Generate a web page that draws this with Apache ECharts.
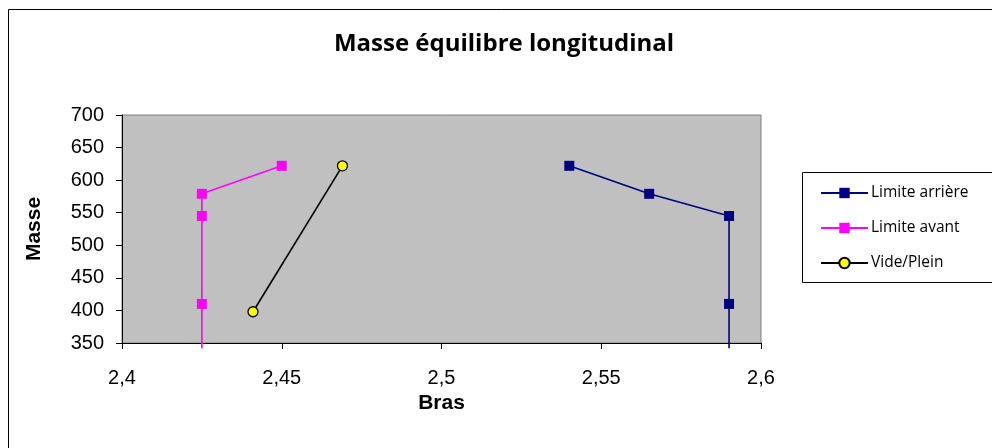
<!DOCTYPE html>
<html><head><meta charset="utf-8">
<script src="https://cdn.jsdelivr.net/npm/echarts@6/dist/echarts.min.js"></script>
<style>html,body{margin:0;padding:0;background:#fff}#c{width:992px;height:448px}</style>
</head><body><div id="c"></div>
<script>
const title = 'Masse équilibre longitudinal';
const xName = 'Bras';
const yName = 'Masse';
const seriesNames = ['Limite arrière', 'Limite avant', 'Vide/Plein'];
const arriereX = [2.54, 2.565, 2.59, 2.59, 2.59];
const arriereY = [622, 579, 545, 410, 342];
const avantX = [2.45, 2.425, 2.425, 2.425, 2.425];
const avantY = [622, 579, 545, 410, 342];
const videX = [2.441, 2.469];
const videY = [398, 622];
const xTicks = [2.4, 2.45, 2.5, 2.55, 2.6];
const yTicks = [350, 400, 450, 500, 550, 600, 650, 700];

function pts(xs, ys, hideLast) {
  return xs.map((x, i) => {
    const d = { value: [x, ys[i]] };
    if (hideLast && i === xs.length - 1) d.symbol = 'none';
    return d;
  });
}
const chart = echarts.init(document.getElementById('c'));
chart.setOption({
  animation: false,
  backgroundColor: '#fff',
  title: { text: title, left: 499, top: 27, textAlign: 'center',
    textStyle: { fontFamily: 'Open Sans', fontWeight: 'bold', fontSize: 24, color: '#000' } },
  grid: { left: 122, top: 115, right: 231, bottom: 105, show: true,
    backgroundColor: '#c0c0c0', borderColor: '#808080', borderWidth: 1 },
  legend: {
    orient: 'vertical', left: 815, top: 180, itemWidth: 47, itemHeight: 13, itemGap: 19,
    textStyle: { fontFamily: 'Open Sans', fontSize: 15.5, color: '#000', padding: [0,0,0,-2] },
    data: seriesNames
  },
  graphic: [
    { type: 'rect', shape: { x: 8.5, y: 9.5, width: 1000, height: 460 }, style: { fill: 'none', stroke: '#000', lineWidth: 1 }, silent: true },
    { type: 'rect', shape: { x: 802.5, y: 172.5, width: 200, height: 110 }, style: { fill: '#fff', stroke: '#000', lineWidth: 1 }, silent: true, z: -1 }
  ],
  xAxis: {
    type: 'value', min: xTicks[0], max: xTicks[xTicks.length - 1], interval: 0.05,
    name: xName, nameLocation: 'middle', nameGap: 50,
    nameTextStyle: { fontFamily: 'Liberation Sans', fontWeight: 'bold', fontSize: 21, color: '#000' },
    axisLine: { show: true, lineStyle: { color: '#000', width: 1 } },
    axisTick: { show: true, length: 6, lineStyle: { color: '#000' } },
    splitLine: { show: false },
    axisLabel: { fontFamily: 'Liberation Sans', fontSize: 20, color: '#000', margin: 25,
      formatter: v => String(+v.toFixed(2)).replace('.', ',') }
  },
  yAxis: {
    type: 'value', min: yTicks[0], max: yTicks[yTicks.length - 1], interval: 50,
    name: yName, nameLocation: 'middle', nameGap: 77, nameRotate: 90,
    nameTextStyle: { fontFamily: 'Liberation Sans', fontWeight: 'bold', fontSize: 21, color: '#000' },
    axisLine: { show: true, lineStyle: { color: '#000', width: 1 } },
    axisTick: { show: true, length: 6, lineStyle: { color: '#000' } },
    splitLine: { show: false },
    axisLabel: { fontFamily: 'Liberation Sans', fontSize: 20, color: '#000', margin: 18 }
  },
  series: [
    { name: seriesNames[0], type: 'line', clip: false, data: pts(arriereX, arriereY, true),
      symbol: 'rect', symbolSize: 10, lineStyle: { color: '#000080', width: 1.6 },
      itemStyle: { color: '#000080' } },
    { name: seriesNames[1], type: 'line', clip: false, data: pts(avantX, avantY, true),
      symbol: 'rect', symbolSize: 10, lineStyle: { color: '#ff00ff', width: 1.6 },
      itemStyle: { color: '#ff00ff' } },
    { name: seriesNames[2], type: 'line', clip: false, data: pts(videX, videY, false),
      symbol: 'circle', symbolSize: 10, lineStyle: { color: '#000', width: 1.6 },
      itemStyle: { color: '#ffff00', borderColor: '#000', borderWidth: 1.3 } }
  ]
});
</script></body></html>
